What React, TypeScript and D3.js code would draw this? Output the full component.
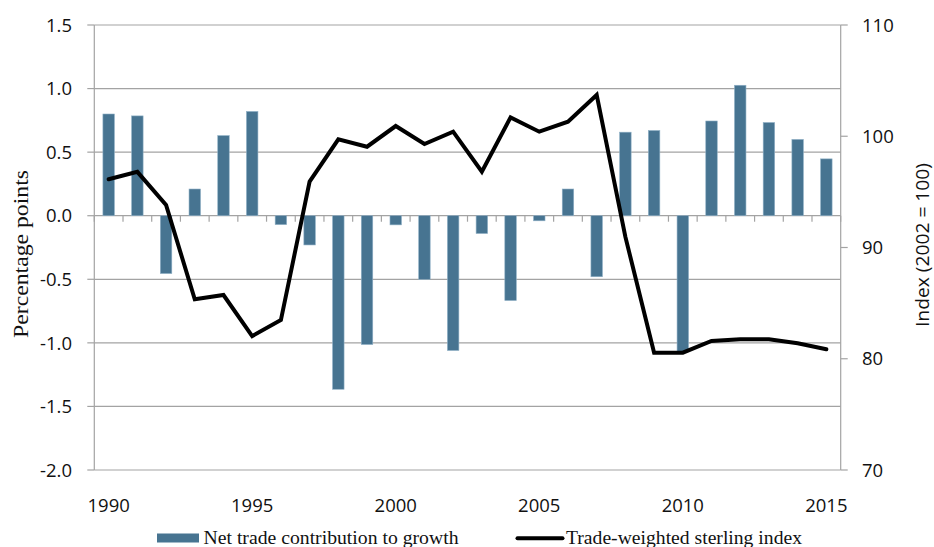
import React from "react";
import * as d3 from "d3";

const years = [1990,1991,1992,1993,1994,1995,1996,1997,1998,1999,2000,2001,2002,2003,2004,2005,2006,2007,2008,2009,2010,2011,2012,2013,2014,2015];
const netTrade = [0.80,0.785,-0.455,0.21,0.63,0.82,-0.07,-0.23,-1.365,-1.013,-0.072,-0.50,-1.06,-0.14,-0.667,-0.04,0.21,-0.48,0.657,0.67,-1.07,0.745,1.026,0.733,0.60,0.447];
const sterling = [96.13,96.8,93.82,85.34,85.73,82.04,83.48,95.92,99.72,99.06,100.92,99.3,100.41,96.81,101.7,100.41,101.31,103.71,90.95,80.55,80.55,81.6,81.75,81.75,81.39,80.85];
const leftTicks = [1.5,1.0,0.5,0.0,-0.5,-1.0,-1.5,-2.0];
const rightTicks = [110,100,90,80,70];
const xLabels = [1990,1995,2000,2005,2010,2015];

const W = 934, H = 547;
const plotL = 94.3, plotR = 840.7, plotT = 25, plotB = 470;
const gridColor = "#a3a3a3";
const barColor = "#477491";
const sans = "'Open Sans', sans-serif";
const serif = "'Liberation Serif', serif";

export default function App() {
  const x = d3.scaleBand<number>().domain(years).range([plotL, plotR]).paddingInner(0.6).paddingOuter(0.3);
  const step = x.step();
  const yL = d3.scaleLinear().domain([-2, 1.5]).range([plotB, plotT]);
  const yR = d3.scaleLinear().domain([70, 110]).range([plotB, plotT]);
  const cx = (yr: number) => (x(yr) as number) + x.bandwidth() / 2;
  const line = d3.line<number>().x((_, i) => cx(years[i])).y((v) => yR(v));
  const y0 = yL(0);

  return (
    <svg width={W} height={H} style={{ position: "absolute", left: 0, top: 0, background: "#fff" }}>
      {/* gridlines */}
      {leftTicks.map((t) => (
        <g key={"g" + t}>
          <line x1={plotL} x2={plotR} y1={yL(t)} y2={yL(t)} stroke={gridColor} strokeWidth={1.2} />
          <line x1={plotL - 7} x2={plotL} y1={yL(t)} y2={yL(t)} stroke={gridColor} strokeWidth={1.2} />
          <text x={72} y={yL(t)} dy="0.36em" textAnchor="end" fontFamily={sans} fontSize={18.5} fill="#111">
            {t.toFixed(1)}
          </text>
        </g>
      ))}
      {/* axes lines */}
      <line x1={plotL} x2={plotL} y1={plotT} y2={plotB} stroke={gridColor} strokeWidth={1.2} />
      <line x1={plotR} x2={plotR} y1={plotT} y2={plotB} stroke={gridColor} strokeWidth={1.2} />
      {rightTicks.map((t) => (
        <g key={"r" + t}>
          <line x1={plotR} x2={plotR + 7} y1={yR(t)} y2={yR(t)} stroke={gridColor} strokeWidth={1.2} />
          <text x={862} y={yR(t)} dy="0.36em" textAnchor="start" fontFamily={sans} fontSize={18.5} fill="#111">
            {t}
          </text>
        </g>
      ))}
      {/* category ticks on zero line */}
      {d3.range(years.length + 1).map((i) => (
        <line key={"ct" + i} x1={plotL + i * step} x2={plotL + i * step} y1={y0} y2={y0 + 6} stroke={gridColor} strokeWidth={1.2} />
      ))}
      {/* bars */}
      {years.map((yr, i) => {
        const v = netTrade[i];
        return (
          <rect
            key={"b" + yr}
            x={x(yr)}
            width={x.bandwidth()}
            y={Math.min(yL(v), y0)}
            height={Math.abs(yL(v) - y0)}
            fill={barColor}
            stroke="#8fb0c6"
            strokeWidth={0.6}
          />
        );
      })}
      {/* line */}
      <path d={line(sterling) || ""} fill="none" stroke="#000" strokeWidth={4} strokeLinejoin="miter" strokeLinecap="round" />
      {/* x labels */}
      {xLabels.map((yr) => (
        <text key={"xl" + yr} x={cx(yr)} y={511.5} textAnchor="middle" fontFamily={sans} fontSize={18.5} fill="#111">
          {yr}
        </text>
      ))}
      {/* axis titles */}
      <text
        transform={`translate(28,254) rotate(-90)`}
        textAnchor="middle"
        fontFamily={serif}
        fontSize={21}
        fill="#111"
        textLength={168}
        lengthAdjust="spacingAndGlyphs"
      >
        Percentage points
      </text>
      <text
        transform={`translate(929,245) rotate(-90)`}
        textAnchor="middle"
        fontFamily={sans}
        fontSize={19}
        fill="#111"
        textLength={164}
        lengthAdjust="spacingAndGlyphs"
      >
        Index (2002 = 100)
      </text>
      {/* legend */}
      <rect x={157} y={533.5} width={42} height={9} fill={barColor} />
      <text x={203.5} y={544} fontFamily={serif} fontSize={19.5} fill="#111" textLength={255} lengthAdjust="spacingAndGlyphs">
        Net trade contribution to growth
      </text>
      <line x1={517.5} x2={562.5} y1={538.3} y2={538.3} stroke="#000" strokeWidth={4} strokeLinecap="round" />
      <text x={566} y={544} fontFamily={serif} fontSize={19.5} fill="#111" textLength={236} lengthAdjust="spacingAndGlyphs">
        Trade-weighted sterling index
      </text>
    </svg>
  );
}
